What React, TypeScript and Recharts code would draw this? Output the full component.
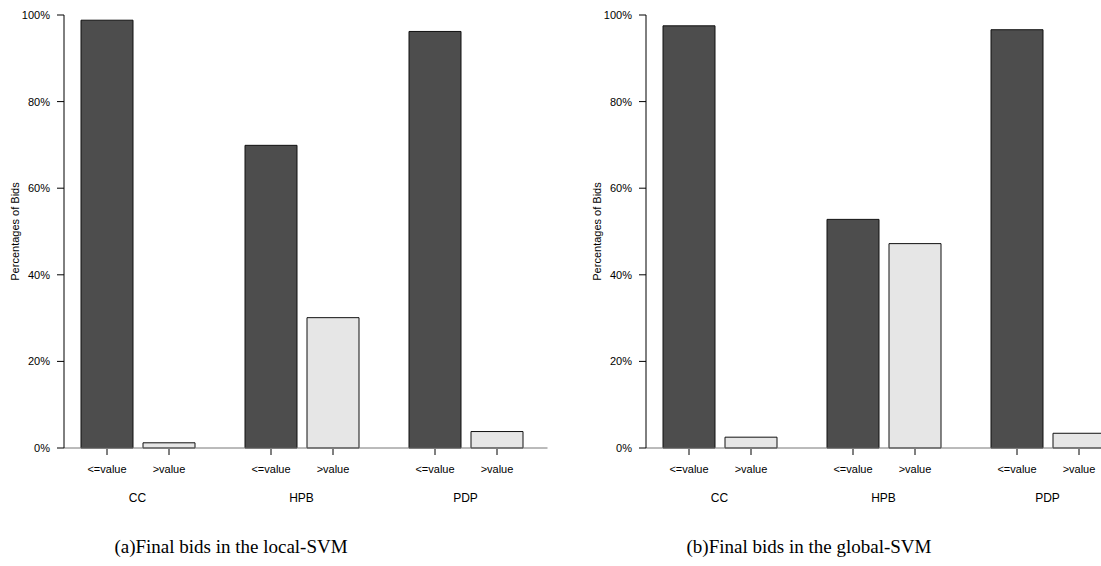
import React from "react";
import { Bar, BarChart, LabelList, XAxis, YAxis } from "recharts";

// percentages
const groups = ["CC", "HPB", "PDP"];
const barNames = ["<=value", ">value"];
const localLe = [98.8, 69.9, 96.2];
const localGt = [1.2, 30.1, 3.8];
const globalLe = [97.5, 52.8, 96.6];
const globalGt = [2.5, 47.2, 3.4];
const yTicks = [0, 20, 40, 60, 80, 100];

const SANS = "'Liberation Sans', Arial, Helvetica, sans-serif";
const SERIF = "'Liberation Serif', 'Times New Roman', serif";

const makeRows = (le: number[], gt: number[]) =>
  groups.map((g, i) => ({ group: g, le: le[i], gt: gt[i] }));

// tick mark + label under each bar, placed from the bar's own geometry
const barTick = (label: string) => (props: any) => {
  const { x, y, width, height } = props;
  const cx = x + width / 2;
  const base = y + height;
  return (
    <g>
      <line x1={cx} x2={cx} y1={base + 1} y2={base + 7} stroke="#000" />
      <text
        x={cx}
        y={base + 25}
        textAnchor="middle"
        fontSize={11}
        fontFamily={SANS}
        fill="#000"
      >
        {label}
      </text>
    </g>
  );
};

const GroupTick = (props: any) => {
  const { x, y, payload } = props;
  return (
    <text
      x={x}
      y={y + 54}
      textAnchor="middle"
      fontSize={12}
      fontFamily={SANS}
      fill="#000"
    >
      {payload.value}
    </text>
  );
};

const YTitle = (props: any) => {
  const { viewBox } = props;
  const cx = viewBox.x + 15;
  const cy = viewBox.y + viewBox.height / 2;
  return (
    <text
      x={cx}
      y={cy}
      transform={`rotate(-90 ${cx} ${cy})`}
      textAnchor="middle"
      dominantBaseline="central"
      fontSize={11}
      fontFamily={SANS}
      fill="#000"
    >
      Percentages of Bids
    </text>
  );
};

const Panel = ({ le, gt }: { le: number[]; gt: number[] }) => (
  <BarChart
    width={550}
    height={520}
    data={makeRows(le, gt)}
    margin={{ top: 15, right: 2.5, left: 0, bottom: 0 }}
    barCategoryGap={25.5}
    barGap={10}
  >
    <XAxis
      dataKey="group"
      height={72}
      padding={{ left: -8.5, right: 0 }}
      axisLine={{ stroke: "#777" }}
      tickLine={false}
      tickSize={0}
      tickMargin={0}
      tick={<GroupTick />}
      interval={0}
    />
    <YAxis
      width={64}
      domain={[0, 100]}
      ticks={yTicks}
      tickFormatter={(v: number) => `${v}%`}
      tickSize={7}
      tickMargin={7}
      axisLine={{ stroke: "#000" }}
      tickLine={{ stroke: "#000" }}
      tick={{ fontSize: 11, fontFamily: SANS, fill: "#000" }}
      label={<YTitle />}
    />
    <Bar dataKey="le" fill="#4d4d4d" stroke="#111" strokeWidth={1} isAnimationActive={false}>
      <LabelList dataKey="le" content={barTick(barNames[0])} />
    </Bar>
    <Bar dataKey="gt" fill="#e6e6e6" stroke="#111" strokeWidth={1} isAnimationActive={false}>
      <LabelList dataKey="gt" content={barTick(barNames[1])} />
    </Bar>
  </BarChart>
);

const captionStyle: React.CSSProperties = {
  position: "absolute",
  top: 537,
  width: 462,
  textAlign: "center",
  fontFamily: SERIF,
  fontSize: 19,
  lineHeight: "19px",
  color: "#000",
};

export default function App() {
  return (
    <div
      style={{
        position: "absolute",
        left: 0,
        top: 0,
        width: 1101,
        height: 566,
        overflow: "hidden",
        background: "#fff",
      }}
    >
      <div style={{ position: "absolute", left: 0, top: 0 }}>
        <Panel le={localLe} gt={localGt} />
      </div>
      <div style={{ position: "absolute", left: 582, top: 0 }}>
        <Panel le={globalLe} gt={globalGt} />
      </div>
      <div style={{ ...captionStyle, left: 0 }}>(a)Final bids in the local-SVM</div>
      <div style={{ ...captionStyle, left: 578 }}>(b)Final bids in the global-SVM</div>
    </div>
  );
}
